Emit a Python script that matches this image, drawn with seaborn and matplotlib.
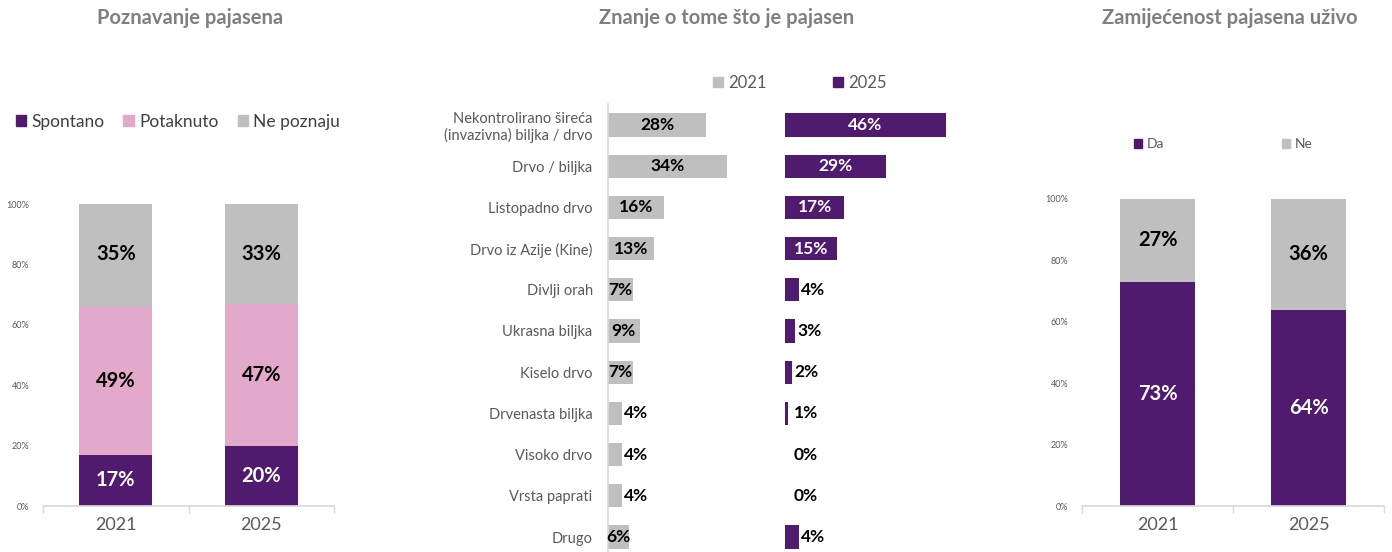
import matplotlib
matplotlib.use("Agg")
import matplotlib.pyplot as plt
import matplotlib.ticker as mticker
from matplotlib.patches import Patch
import seaborn as sns
import numpy as np

# ---- Data ----
years = ["2021", "2025"]

# Poznavanje pajasena (%)
spontano = [17, 20]
potaknuto = [49, 47]
ne_poznaju = [35, 33]

# Znanje o tome što je pajasen (%)
answers = [
    "Nekontrolirano šireća\n(invazivna) biljka / drvo",
    "Drvo / biljka",
    "Listopadno drvo",
    "Drvo iz Azije (Kine)",
    "Divlji orah",
    "Ukrasna biljka",
    "Kiselo drvo",
    "Drvenasta biljka",
    "Visoko drvo",
    "Vrsta paprati",
    "Drugo",
]
znanje_2021 = [28, 34, 16, 13, 7, 9, 7, 4, 4, 4, 6]
znanje_2025 = [46, 29, 17, 15, 4, 3, 2, 1, 0, 0, 4]

# Zamijećenost pajasena uživo (%)
da = [73, 64]
ne = [27, 36]

# ---- Style ----
PURPLE = "#501A6E"
PINK = "#E3A9CA"
GREY = "#BFBFBF"
TITLE_C = "#7F7F7F"
TEXT_C = "#595959"
AXIS_C = "#D9D9D9"

sns.set_theme(style="white")
plt.rcParams["font.family"] = ["Lato", "DejaVu Sans"]

fig = plt.figure(figsize=(13.92, 5.52), dpi=100)
bar_kw = dict(saturation=1, linewidth=0)


def style_stacked(ax):
    ax.set_xlim(-0.5, 1.5)
    ax.set_ylim(0, 100)
    sns.despine(ax=ax, left=True)
    ax.spines["bottom"].set_color(AXIS_C)
    ax.set_xlabel("")
    ax.set_ylabel("")
    ax.yaxis.set_major_locator(mticker.MultipleLocator(20))
    ax.yaxis.set_major_formatter(mticker.FuncFormatter(lambda v, p: f"{v:.0f}%"))
    ax.tick_params(axis="y", length=0, labelsize=6.5, labelcolor=TEXT_C, pad=10)
    ax.tick_params(axis="x", length=0, labelsize=13, labelcolor=TEXT_C, pad=8)
    ax.set_xticks([-0.5, 0.5, 1.5], minor=True)
    ax.tick_params(axis="x", which="minor", length=5, color=AXIS_C, bottom=True)


def stack_labels(ax, bottoms, values, colors):
    for i, (b, v) in enumerate(zip(bottoms, values)):
        ax.text(i, b + v / 2, f"{v}%", ha="center", va="center",
                fontsize=14.5, fontweight="bold", color=colors)


# ---- Left: Poznavanje pajasena ----
ax1 = fig.add_axes([0.0309, 0.0833, 0.2091, 0.5471])
tot = np.array(spontano) + np.array(potaknuto) + np.array(ne_poznaju)
mid = np.array(spontano) + np.array(potaknuto)
sns.barplot(x=years, y=tot, color=GREY, width=0.5, ax=ax1, **bar_kw)
sns.barplot(x=years, y=mid, color=PINK, width=0.5, ax=ax1, **bar_kw)
sns.barplot(x=years, y=spontano, color=PURPLE, width=0.5, ax=ax1, **bar_kw)
style_stacked(ax1)
stack_labels(ax1, [0, 0], spontano, "white")
stack_labels(ax1, spontano, potaknuto, "black")
stack_labels(ax1, mid, ne_poznaju, "black")

fig.text(190 / 1392, 1 - 18 / 552, "Poznavanje pajasena", ha="center", va="center",
         fontsize=14.5, fontweight="bold", color=TITLE_C)
fig.legend(handles=[Patch(color=PURPLE, label="Spontano"),
                    Patch(color=PINK, label="Potaknuto"),
                    Patch(color=GREY, label="Ne poznaju")],
           loc="center left", bbox_to_anchor=(0.0, 1 - 122 / 552), ncol=3,
           frameon=False, fontsize=12.5, labelcolor="#404040",
           handlelength=0.6, handleheight=0.6, handletextpad=0.3, columnspacing=1.1)

# ---- Middle: Znanje o tome što je pajasen ----
ylim_mid = (10.364, -0.5)
axL = fig.add_axes([0.4368, 0.0, 0.1081, 0.8109])
axR = fig.add_axes([0.5639, 0.0, 0.1257, 0.8109])

sns.barplot(x=znanje_2021, y=answers, orient="h", color=GREY, width=0.56,
            ax=axL, **bar_kw)
sns.barplot(x=znanje_2025, y=answers, orient="h", color=PURPLE, width=0.56,
            ax=axR, **bar_kw)

for ax, vals, xmax, inner_c in [(axL, znanje_2021, 43, "black"),
                                 (axR, znanje_2025, 50, "white")]:
    ax.set_xlim(0, xmax)
    ax.set_ylim(*ylim_mid)
    ax.set_xlabel("")
    ax.set_ylabel("")
    ax.set_xticks([])
    for s in ax.spines.values():
        s.set_visible(False)
    for i, v in enumerate(vals):
        if v >= 5:
            ax.text(v / 2, i, f"{v}%", ha="center", va="center",
                    fontsize=12.5, fontweight="bold", color=inner_c)
        else:
            ax.text(max(v + 0.6, 2.5), i, f"{v}%", ha="left", va="center",
                    fontsize=12.5, fontweight="bold", color="black")

axL.spines["left"].set_visible(True)
axL.spines["left"].set_color(AXIS_C)
axL.tick_params(axis="y", length=0, labelsize=10.5, labelcolor=TEXT_C, pad=11)
axR.set_yticks([])

fig.text(727 / 1392, 1 - 18 / 552, "Znanje o tome što je pajasen", ha="center",
         va="center", fontsize=14.5, fontweight="bold", color=TITLE_C)
fig.legend(handles=[Patch(color=GREY, label="2021"),
                    Patch(color=PURPLE, label="2025")],
           loc="center", bbox_to_anchor=(800 / 1392, 1 - 83 / 552), ncol=2,
           frameon=False, fontsize=12, labelcolor=TEXT_C,
           handlelength=0.6, handleheight=0.6, handletextpad=0.3, columnspacing=4.0)

# ---- Right: Zamijećenost pajasena uživo ----
ax3 = fig.add_axes([0.7773, 0.0833, 0.2170, 0.5562])
tot3 = np.array(da) + np.array(ne)
sns.barplot(x=years, y=tot3, color=GREY, width=0.5, ax=ax3, **bar_kw)
sns.barplot(x=years, y=da, color=PURPLE, width=0.5, ax=ax3, **bar_kw)
style_stacked(ax3)
stack_labels(ax3, [0, 0], da, "white")
stack_labels(ax3, da, ne, "black")

fig.text(1230 / 1392, 1 - 18 / 552, "Zamijećenost pajasena uživo", ha="center",
         va="center", fontsize=14.5, fontweight="bold", color=TITLE_C)
fig.legend(handles=[Patch(color=PURPLE, label="Da"),
                    Patch(color=GREY, label="Ne")],
           loc="center", bbox_to_anchor=(1223 / 1392, 1 - 144 / 552), ncol=2,
           frameon=False, fontsize=10, labelcolor=TEXT_C,
           handlelength=0.6, handleheight=0.6, handletextpad=0.3, columnspacing=8.5)

fig.savefig("out.png", dpi=100)
plt.close(fig)
